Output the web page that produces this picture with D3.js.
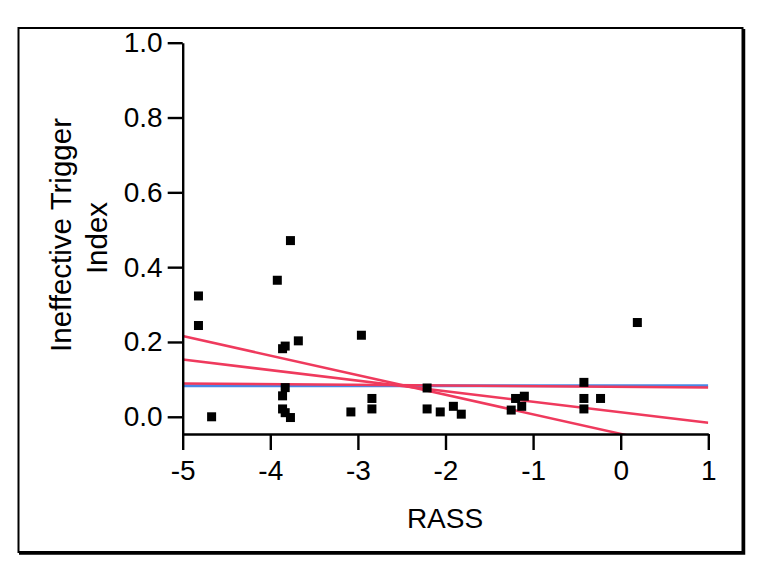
<!DOCTYPE html>
<html>
<head>
<meta charset="utf-8">
<script src="https://cdn.jsdelivr.net/npm/d3@7"></script>
<style>
  html, body { margin: 0; padding: 0; background: #fff; }
  svg { display: block; }
  text { font-family: "Liberation Sans", Arial, sans-serif; fill: #000; }
</style>
</head>
<body>
<svg id="chart" width="759" height="569"></svg>
<script>
// ---- data ----
const rass = [-3.77, -3.92, -4.82, -4.82, -3.68, -3.83, -3.86, -3.83, -3.86, -3.86, -3.83, -3.77, -4.67,
              -2.96, -3.08, -2.84, -2.84, -2.21, -2.21, -2.06, -1.91, -1.82,
              -1.25, -1.20, -1.10, -1.13,
              0.19, -0.42, -0.42, -0.23, -0.42];
const iti  = [0.471, 0.365, 0.323, 0.244, 0.203, 0.189, 0.182, 0.078, 0.056, 0.021, 0.011, -0.002, 0.000,
              0.218, 0.013, 0.049, 0.021, 0.077, 0.021, 0.013, 0.028, 0.007,
              0.018, 0.049, 0.055, 0.028,
              0.252, 0.092, 0.049, 0.049, 0.021];
// fit lines: [x0, x1], [y0, y1]
const lineX = [-5, 1];
const blueLineY = [0.083, 0.083];
const redLinesY = [[0.089, 0.078], [0.153, -0.016], [0.216, -0.098]];
const xTicks = [-5, -4, -3, -2, -1, 0, 1];
const yTicks = [0, 0.2, 0.4, 0.6, 0.8, 1.0];
const xLabel = "RASS";
const yLabelLines = ["Ineffective Trigger", "Index"];

// ---- drawing ----
const svg = d3.select("#chart");
const x = d3.scaleLinear().domain([-5, 1]).range([182.7, 708.3]);
const y = d3.scaleLinear().domain([-0.046, 1]).range([434, 42.7]);

// frame
svg.append("rect").attr("x", 18.5).attr("y", 28).attr("width", 724).attr("height", 524)
  .attr("fill", "none").attr("stroke", "#000").attr("stroke-width", 2);
svg.append("path").attr("d", `M19,553.5 H744 V29`).attr("fill", "none")
  .attr("stroke", "#000").attr("stroke-width", 2.5);

svg.append("defs").append("clipPath").attr("id", "plotclip")
  .append("rect").attr("x", x(-5)).attr("y", y(1)).attr("width", x(1) - x(-5)).attr("height", y(-0.046) - y(1));

const plot = svg.append("g").attr("clip-path", "url(#plotclip)");
const lineGen = d3.line().x(d => x(d[0])).y(d => y(d[1]));

plot.append("path").datum(lineX.map((v, i) => [v, blueLineY[i]]))
  .attr("d", lineGen).attr("fill", "none").attr("stroke", "#4a87e6").attr("stroke-width", 3);
redLinesY.forEach(ys => {
  plot.append("path").datum(lineX.map((v, i) => [v, ys[i]]))
    .attr("d", lineGen).attr("fill", "none").attr("stroke", "#ef3a5d").attr("stroke-width", 2.5);
});

// points
const sz = 9;
svg.append("g").selectAll("rect").data(rass.map((v, i) => [v, iti[i]])).join("rect")
  .attr("x", d => x(d[0]) - sz / 2).attr("y", d => y(d[1]) - sz / 2)
  .attr("width", sz).attr("height", sz).attr("fill", "#000");

// axes
const xAxis = d3.axisBottom(x).tickValues(xTicks).tickFormat(d3.format("d"))
  .tickSize(16).tickSizeOuter(0).tickPadding(10);
const yAxis = d3.axisLeft(y).tickValues(yTicks).tickFormat(d3.format(".1f"))
  .tickSize(15).tickSizeOuter(0).tickPadding(5);

const gx = svg.append("g").attr("transform", `translate(0,${y(-0.046)})`).call(xAxis);
const gy = svg.append("g").attr("transform", `translate(${x(-5)},0)`).call(yAxis);
[gx, gy].forEach(g => {
  g.select(".domain").attr("stroke", "#000").attr("stroke-width", 2.4);
  g.selectAll(".tick line").attr("stroke", "#000").attr("stroke-width", 2.4);
  g.selectAll(".tick text").attr("font-size", 28).attr("font-family", "Liberation Sans, Arial, sans-serif").attr("fill", "#000");
});
gx.selectAll(".tick text").text(d => d < 0 ? "-" + Math.abs(d) : String(d));

// axis titles
svg.append("text").attr("x", 445).attr("y", 528).attr("text-anchor", "middle")
  .attr("font-size", 28).text(xLabel);
svg.append("text").attr("transform", "translate(71,235) rotate(-90)").attr("text-anchor", "middle")
  .attr("font-size", 29.5).text(yLabelLines[0]);
svg.append("text").attr("transform", "translate(107,238) rotate(-90)").attr("text-anchor", "middle")
  .attr("font-size", 29.5).text(yLabelLines[1]);
</script>
</body>
</html>
